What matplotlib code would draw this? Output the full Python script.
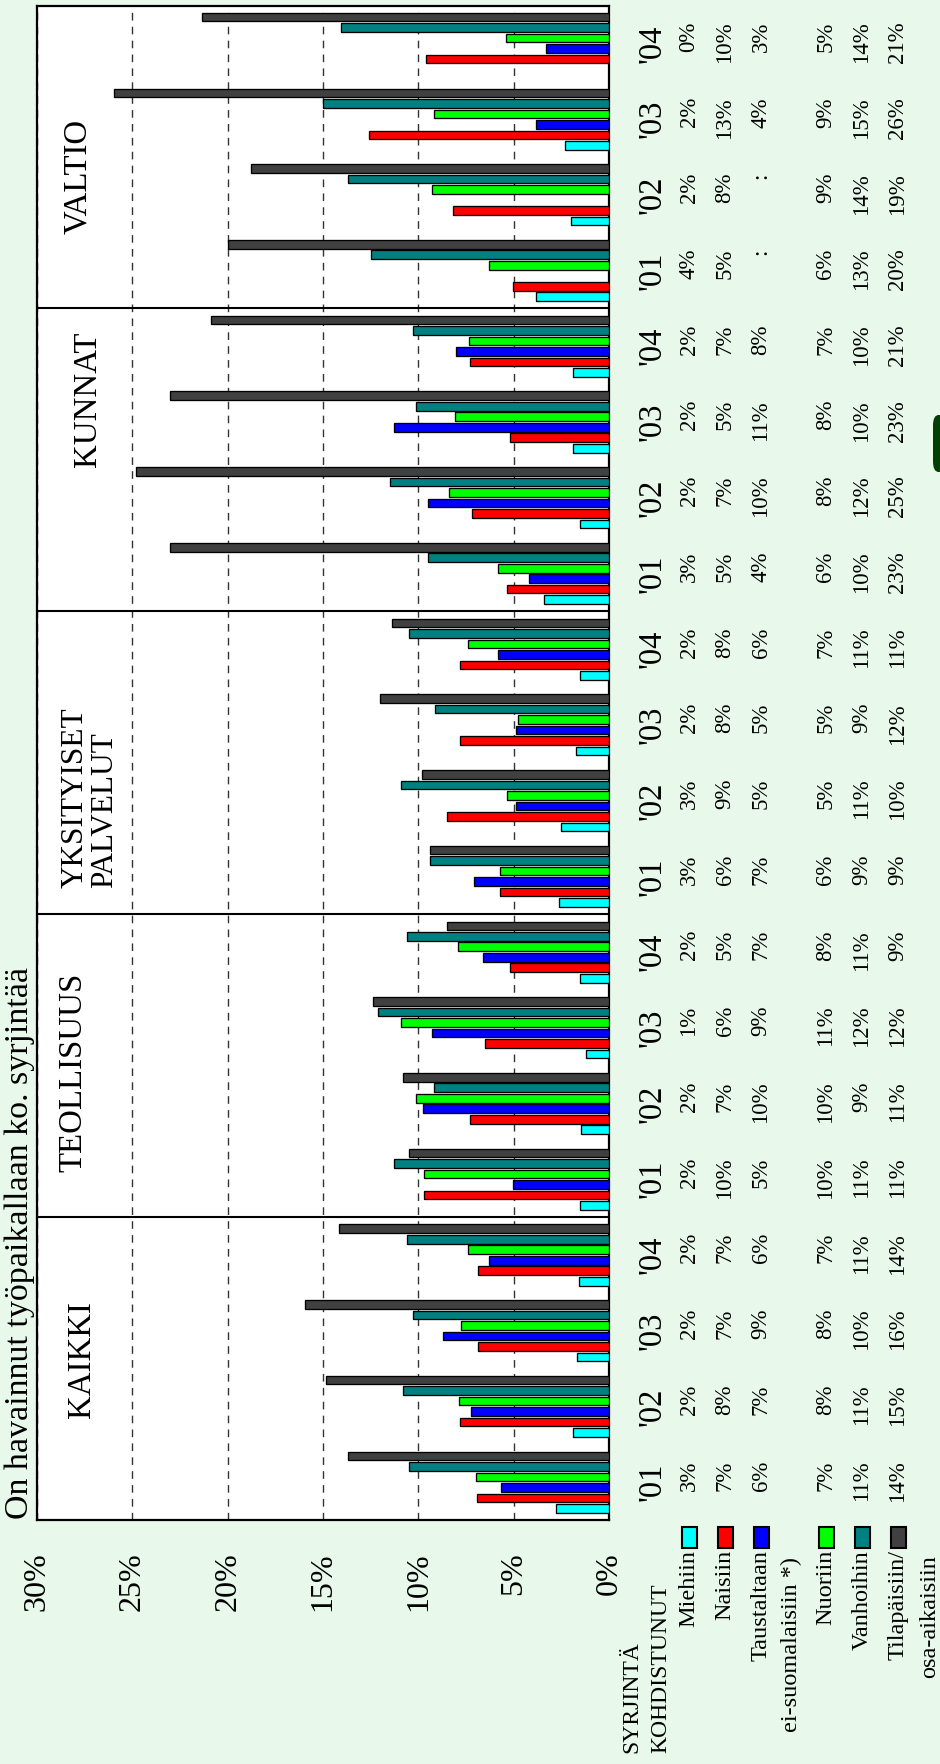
import numpy as np
import matplotlib
matplotlib.use('Agg')
import matplotlib.pyplot as plt
from matplotlib.patches import Rectangle, FancyBboxPatch
from matplotlib.transforms import blended_transform_factory

plt.rcParams['font.family'] = ['Liberation Serif', 'DejaVu Serif']

# categories
sectors = ['KAIKKI', 'TEOLLISUUS', 'YKSITYISET\nPALVELUT', 'KUNNAT', 'VALTIO']
years = ["'01", "'02", "'03", "'04"]
series = ['Miehiin', 'Naisiin', 'Taustaltaan', 'Nuoriin', 'Vanhoihin', 'Tilapäisiin/']
colors = ['#00ffff', '#ff0000', '#0000ff', '#00ff00', '#008080', '#404040']
xticks = [0, 5, 10, 15, 20, 25, 30]

# bar lengths in %, order: sector (KAIKKI..VALTIO) x year ('01..'04)
nan = np.nan
miehiin = [2.77, 1.89, 1.68, 1.58, 1.54, 1.45, 1.2, 1.5, 2.6, 2.5, 1.75, 1.5,
           3.4, 1.5, 1.9, 1.9, 3.82, 1.98, 2.29, 0]
naisiin = [6.9, 7.81, 6.88, 6.88, 9.72, 7.29, 6.5, 5.2, 5.7, 8.5, 7.8, 7.8,
           5.35, 7.2, 5.2, 7.3, 5.01, 8.2, 12.6, 9.6]
taustaltaan = [5.64, 7.22, 8.72, 6.3, 5.01, 9.74, 9.3, 6.6, 7.1, 4.9, 4.9, 5.8,
               4.2, 9.5, 11.26, 8.0, nan, nan, 3.82, 3.29]
nuoriin = [6.97, 7.88, 7.78, 7.37, 9.72, 10.12, 10.9, 7.9, 5.7, 5.35, 4.76, 7.4,
           5.8, 8.4, 8.07, 7.36, 6.27, 9.3, 9.19, 5.39]
vanhoihin = [10.51, 10.82, 10.3, 10.61, 11.28, 9.2, 12.1, 10.6, 9.4, 10.9, 9.1, 10.5,
             9.5, 11.5, 10.1, 10.3, 12.5, 13.7, 15.0, 14.03]
tilapaisiin = [13.71, 14.85, 15.95, 14.15, 10.51, 10.8, 12.4, 8.5, 9.4, 9.8, 12.0, 11.4,
               23.0, 24.8, 23.0, 20.9, 20.0, 18.8, 25.96, 21.36]

# table texts under the chart
miehiin_txt = ['3%', '2%', '2%', '2%', '2%', '2%', '1%', '2%', '3%', '3%', '2%', '2%',
               '3%', '2%', '2%', '2%', '4%', '2%', '2%', '0%']
naisiin_txt = ['7%', '8%', '7%', '7%', '10%', '7%', '6%', '5%', '6%', '9%', '8%', '8%',
               '5%', '7%', '5%', '7%', '5%', '8%', '13%', '10%']
taustaltaan_txt = ['6%', '7%', '9%', '6%', '5%', '10%', '9%', '7%', '7%', '5%', '5%', '6%',
                   '4%', '10%', '11%', '8%', ':', ':', '4%', '3%']
nuoriin_txt = ['7%', '8%', '8%', '7%', '10%', '10%', '11%', '8%', '6%', '5%', '5%', '7%',
               '6%', '8%', '8%', '7%', '6%', '9%', '9%', '5%']
vanhoihin_txt = ['11%', '11%', '10%', '11%', '11%', '9%', '12%', '11%', '9%', '11%', '9%', '11%',
                 '10%', '12%', '10%', '10%', '13%', '14%', '15%', '14%']
tilapaisiin_txt = ['14%', '15%', '16%', '14%', '11%', '11%', '12%', '9%', '9%', '10%', '12%', '11%',
                   '23%', '25%', '23%', '21%', '20%', '19%', '26%', '21%']

values = [miehiin, naisiin, taustaltaan, nuoriin, vanhoihin, tilapaisiin]
texts = [miehiin_txt, naisiin_txt, taustaltaan_txt, nuoriin_txt, vanhoihin_txt, tilapaisiin_txt]

W, H = 940, 1764
def fx(px):
    return px / W
def fy(py):
    return 1 - py / H

bg = '#e8f8ea'
fig = plt.figure(figsize=(9.4, 17.64), dpi=100, facecolor=bg)
ax_top, ax_bot, ax_l, ax_r = 5.5, 1520, 37, 609
ax = fig.add_axes([fx(ax_l), fy(ax_bot), (ax_r - ax_l) / W, (ax_bot - ax_top) / H])
ax.set_facecolor('white')

ngroups = len(sectors) * len(years)
step = 0.1386
for b in range(len(series)):
    pos = np.arange(ngroups) + 0.5 + (b - 2.5) * step
    ax.barh(pos, values[b], height=0.114, color=colors[b], edgecolor='black',
            linewidth=0.95, zorder=3)

ax.set_xlim(30, 0)
ax.set_ylim(0, ngroups)
ax.set_yticks([])
ax.set_xticks(xticks)
ax.set_xticklabels(['%d%%' % t for t in xticks])
ax.tick_params(axis='x', length=0, pad=23, labelsize=23, labelrotation=90)
ax.grid(axis='x', linestyle=(0, (5.5, 4.5)), color='#333333', linewidth=1.0, zorder=1)
ax.set_axisbelow(True)
for s in range(1, len(sectors)):
    ax.axhline(s * len(years), color='black', linewidth=1.5, zorder=2)
for sp in ax.spines.values():
    sp.set_linewidth(1.6)

# sector names
sector_pos = [(82, 1360, 'center', 23.7), (73.5, 1072, 'center', 23.7),
              (90, 888, 'bottom', 22.5), (88, 399, 'center', 23.7),
              (77.5, 176, 'center', 23.7)]
for name, (px, py, va, fs) in zip(sectors, sector_pos):
    fig.text(fx(px), fy(py), name, rotation=90, ha='center', va=va,
             fontsize=fs, linespacing=1.05, multialignment='left')

# table
trans = blended_transform_factory(fig.transFigure, ax.transData)
col_x = [689, 725, 761, 826, 862, 898]
group_h = (ax_bot - ax_top) / ngroups
for g in range(ngroups):
    ax.text(fx(652), g + 0.5, years[g % 4], transform=trans, rotation=90,
            ha='center', va='center', fontsize=23.5)
    for b in range(len(series)):
        ax.text(fx(col_x[b]), g + 0.5 + 22 / group_h, texts[b][g], transform=trans,
                rotation=90, ha='center', va='top', fontsize=16.5)

# legend
for b in range(len(series)):
    fig.patches.append(Rectangle((fx(col_x[b] - 7.5), fy(1548)), 15 / W, 21 / H,
                                 transform=fig.transFigure, facecolor=colors[b],
                                 edgecolor='black', linewidth=1.5))
    fig.text(fx(col_x[b]), fy(1550), series[b], rotation=90, ha='center', va='top',
             fontsize=17.5)
fig.text(fx(791), fy(1557), 'ei-suomalaisiin *)', rotation=90, ha='center', va='top',
         fontsize=17.5)
fig.text(fx(930), fy(1555), 'osa-aikaisiin', rotation=90, ha='center', va='top',
         fontsize=17.5)
fig.text(fx(632), fy(1753), 'SYRJINTÄ', rotation=90, ha='center', va='bottom', fontsize=17)
fig.text(fx(661), fy(1753), 'KOHDISTUNUT', rotation=90, ha='center', va='bottom', fontsize=17)

# title
fig.text(fx(19.5), fy(1519), 'On havainnut työpaikallaan ko. syrjintää', rotation=90,
         ha='center', va='bottom', fontsize=24.5)

# side button
fig.patches.append(FancyBboxPatch((fx(933), fy(472)), 20 / W, 57 / H,
                                  boxstyle='round,pad=0,rounding_size=0.006',
                                  transform=fig.transFigure, facecolor='#023f02',
                                  edgecolor='none'))

fig.savefig('out.png', dpi=100, facecolor=bg)
